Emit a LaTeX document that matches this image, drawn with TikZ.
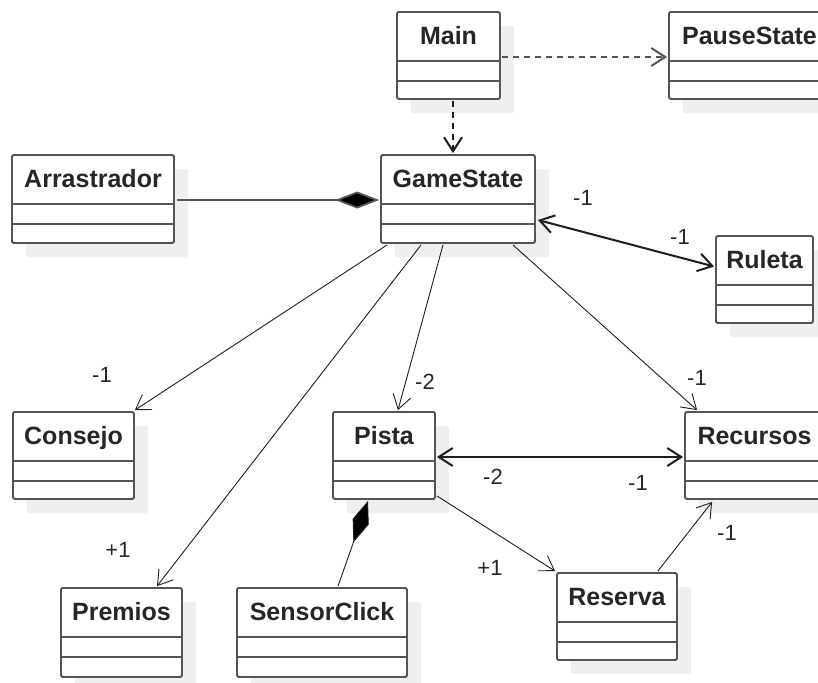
\documentclass[tikz,border=0pt]{standalone}
\usepackage{fontspec}
\setmainfont{Liberation Sans}
\usetikzlibrary{arrows.meta,calc,shadows}

\definecolor{boxline}{HTML}{555555}
\definecolor{shade}{HTML}{EFEFEF}
\definecolor{wire}{HTML}{1E1E1E}

\tikzset{
  classbox/.style={draw=boxline, line width=1.8pt, rounded corners=1.5pt,
    fill=white, inner sep=0pt,
    drop shadow={shadow xshift=14pt, shadow yshift=-14pt, fill=shade, opacity=1}},
  classtitle/.style={font=\bfseries\fontsize{25}{30}\selectfont, text=black!85,
    anchor=base, inner sep=0pt},
  divider/.style={draw=boxline, line width=1.8pt},
  mult/.style={font=\fontsize{22}{26}\selectfont, text=black!85, inner sep=0pt},
  opentip/.tip={Straight Barb[length=14pt, width=18pt]},
  navig/.style={draw=wire, line width=0.9pt, -opentip},
  bothnavig/.style={draw=wire, line width=2pt, opentip-opentip},
  depend/.style={line width=2pt, dash pattern=on 6pt off 5pt, -opentip},
  composed/.style={-{Diamond[length=44pt, width=17pt, fill=black]}},
}

% class box: name, title, centre x, centre y, width, height
\newcommand\umlbox[6]{%
  \node[classbox, minimum width=#5pt, minimum height=#6pt] (#1) at (#3,#4) {};
  \node[classtitle] (#1-title) at ($(#1.north)+(0,33)$) {#2};
  \draw[divider] ($(#1.north west)+(0,50)$) -- ($(#1.north east)+(0,50)$);
  \draw[divider] ($(#1.north west)+(0,70)$) -- ($(#1.north east)+(0,70)$);
}

\begin{document}
\begin{tikzpicture}[x=1pt, y=-1pt]
  \useasboundingbox (0,0) rectangle (818,682);

  % classes
  \umlbox{main}{Main}{448.5}{55.5}{103}{87}
  \umlbox{pause}{PauseState}{749.5}{55.5}{161}{87}
  \umlbox{arr}{Arrastrador}{93}{199}{162}{88}
  \umlbox{gs}{GameState}{458}{199}{154}{88}
  \umlbox{rul}{Ruleta}{764.5}{279.5}{97}{87}
  \umlbox{cons}{Consejo}{73.5}{455.5}{121}{87}
  \umlbox{pista}{Pista}{384}{455.5}{102}{87}
  \umlbox{rec}{Recursos}{754.5}{455.5}{139}{87}
  \umlbox{prem}{Premios}{121.5}{632.5}{121}{89}
  \umlbox{sens}{SensorClick}{322}{632.5}{170}{89}
  \umlbox{res}{Reserva}{617}{616.5}{120}{87}

  % dependencies
  \draw[depend, draw=boxline] ($(main.east)+(1,1.5)$) -- ($(pause.west)+(-1,1.5)$);
  \draw[depend, draw=wire] ($(main.south)+(4.5,1)$) -- ($(gs.north)+(-5,-1)$);

  % compositions
  \draw[composed, draw=boxline, line width=1.8pt] ($(arr.east)+(2,1)$) -- ($(gs.west)+(-1,1)$);
  \draw[composed, draw=wire, line width=0.9pt] ($(sens.north)+(16,-1)$) -- ($(pista.south)+(-16,1)$);

  % associations
  \draw[bothnavig] ($(gs.east)+(2,21)$) -- ($(rul.west)+(-1,-13)$);
  \draw[navig] ($(gs.south west)+(7,1)$) -- ($(cons.north east)+(0,-1)$);
  \draw[navig] ($(gs.south west)+(41,1)$) -- ($(prem.north)+(35.5,-1)$);
  \draw[navig] ($(gs.south)+(-15,1)$) -- ($(pista.north)+(14,-1)$);
  \draw[navig] ($(gs.south east)+(-23,1)$) -- ($(rec.north west)+(13,-1)$);
  \draw[bothnavig] ($(pista.east)+(1,1.5)$) -- ($(rec.west)+(-1,1.5)$);
  \draw[navig] ($(pista.south east)+(1,-4)$) -- ($(res.north west)+(-1,-1)$);
  \draw[navig] ($(res.north east)+(-20,-1)$) -- ($(rec.south west)+(28,2)$);

  % multiplicities
  \node[mult] (m1) at (583,198) {-1};
  \node[mult] (m2) at (680,237) {-1};
  \node[mult] (m3) at (102,375) {-1};
  \node[mult] (m4) at (118,550) {+1};
  \node[mult] (m5) at (425,382) {-2};
  \node[mult] (m6) at (697,378) {-1};
  \node[mult] (m7) at (493,477) {-2};
  \node[mult] (m8) at (638,483) {-1};
  \node[mult] (m9) at (490,568) {+1};
  \node[mult] (m10) at (727,533) {-1};
\end{tikzpicture}
\end{document}
